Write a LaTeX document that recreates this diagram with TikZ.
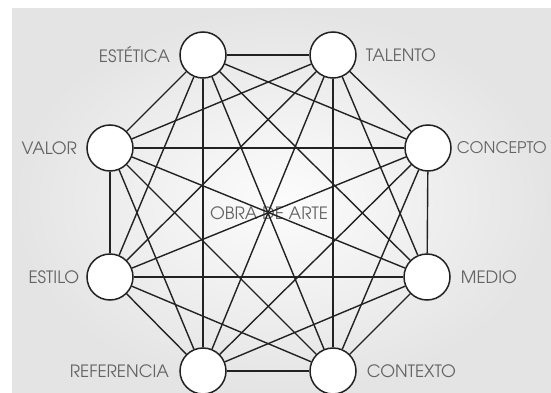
\documentclass[tikz,border=0pt]{standalone}
\usepackage{fontspec}
\newfontfamily\gothic{texgyreadventor-regular.otf}
\definecolor{bgedge}{RGB}{228,228,228}
\definecolor{bgmid}{RGB}{252,252,252}
\definecolor{lbltext}{RGB}{100,100,100}
\definecolor{wire}{RGB}{34,34,34}
\tikzset{
  hub/.style={circle,draw=wire,line width=1.5pt,fill=white,minimum size=46pt,inner sep=0pt},
  lbl/.style={text=lbltext,font=\gothic\fontsize{17}{17}\selectfont,inner sep=0pt},
  wirex/.style={draw=wire,line width=1.4pt}
}
\begin{document}
\begin{tikzpicture}[x=1pt,y=-1pt]
\useasboundingbox (0,0) rectangle (551,393);
\shade[inner color=bgmid,outer color=bgedge] (12,9) rectangle (551,393);
\node[lbl] (obra) at (269,213) {OBRA DE ARTE};
\node[hub] (est) at (203,55) {};
\node[hub] (tal) at (333,55) {};
\node[hub] (con) at (428,148) {};
\node[hub] (med) at (427,277) {};
\node[hub] (ctx) at (333,371) {};
\node[hub] (ref) at (203,371) {};
\node[hub] (sti) at (110,277) {};
\node[hub] (val) at (110,148) {};
\node[lbl,anchor=east] (estl) at ([xshift=-9pt]est.west) {EST\'ETICA};
\node[lbl,anchor=west] (tall) at ([xshift=9pt]tal.east) {TALENTO};
\node[lbl,anchor=west,font=\gothic\fontsize{16}{16}\selectfont] (conl) at ([xshift=5pt]con.east) {CONCEPTO};
\node[lbl,anchor=west] (medl) at ([xshift=10pt]med.east) {MEDIO};
\node[lbl,anchor=west] (ctxl) at ([xshift=10pt]ctx.east) {CONTEXTO};
\node[lbl,anchor=east] (refl) at ([xshift=-10pt]ref.west) {REFERENCIA};
\node[lbl,anchor=east] (stil) at ([xshift=-7pt]sti.west) {ESTILO};
\node[lbl,anchor=east] (vall) at ([xshift=-9pt]val.west) {VALOR};
% every hub linked to every other hub
\foreach \a [count=\i] in {est,tal,con,med,ctx,ref,sti,val}{
  \foreach \b [count=\j] in {est,tal,con,med,ctx,ref,sti,val}{
    \ifnum\i<\j \draw[wirex] (\a) -- (\b); \fi
  }
}
\end{tikzpicture}
\end{document}
